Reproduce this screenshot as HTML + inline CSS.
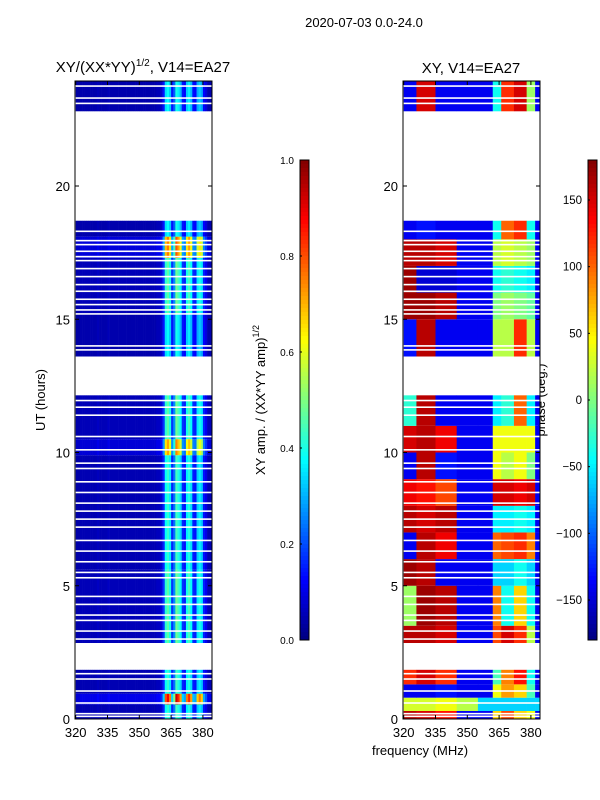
<!DOCTYPE html>
<html><head><meta charset="utf-8"><style>
body{margin:0;background:#fff;}
svg{display:block;font-family:"Liberation Sans",sans-serif;}
</style></head><body>
<svg id="chart" width="600" height="800" xmlns="http://www.w3.org/2000/svg">
<text x="364" y="27" font-size="13" text-anchor="middle">2020-07-03 0.0-24.0</text>
<text x="143" y="72" font-size="15" text-anchor="middle">XY/(XX*YY)<tspan dy="-6" font-size="10">1/2</tspan><tspan dy="6">, V14=EA27</tspan></text>
<text x="471" y="73" font-size="15" text-anchor="middle">XY, V14=EA27</text>
<text transform="translate(45,400) rotate(-90)" font-size="13" text-anchor="middle">UT (hours)</text>
<text x="420" y="755" font-size="13" text-anchor="middle">frequency (MHz)</text>
<text transform="translate(265,400) rotate(-90)" font-size="13" text-anchor="middle">XY amp. / (XX*YY amp)<tspan dy="-6" font-size="9">1/2</tspan></text>
<text transform="translate(545,400) rotate(-90)" font-size="13" text-anchor="middle">phase (deg.)</text>
<g id="left"></g>
<g id="right"></g>
<g id="axes"></g>
</svg>
<script>
const freqStart = 320, freqEnd = 384;
const gapRanges = [[1.85,2.85],[12.15,13.6],[18.7,22.8],[23.93,24]];
const thinGaps = [23.75,23.3,23.1,18.3,17.95,17.8,17.55,17.35,17.2,16.9,16.6,16.3,16.05,15.75,15.55,15.35,15.2,14.0,13.85,11.95,11.7,11.4,10.6,10.1,9.6,9.4,8.9,8.5,8.1,7.8,7.5,7.2,6.7,6.3,5.9,5.5,5.3,4.6,4.3,3.9,3.7,3.3,3.0,1.7,1.5,1.05,0.6,0.2,0.1];
const ampProfile = [0.04,0.04,0.05,0.05,0.05,0.05,0.05,0.05,0.05,0.05,0.06,0.05,0.05,0.05,0.05,0.06,0.05,0.05,0.05,0.05,0.05,0.05,0.05,0.05,0.05,0.05,0.05,0.05,0.05,0.05,0.05,0.05,0.05,0.05,0.05,0.05,0.05,0.05,0.06,0.06,0.08,0.16,0.38,0.42,0.36,0.16,0.24,0.44,0.4,0.34,0.16,0.14,0.36,0.4,0.34,0.15,0.14,0.32,0.36,0.32,0.14,0.1,0.05,0.05];
const ampBlocks = [[0,0.55,1.0],[0.55,0.95,2.1],[0.95,1.85,1.0],[2.85,5.6,1.1],[5.6,9.9,1.0],[9.9,10.5,1.7],[10.5,12.15,1.1],[13.6,15.2,0.9],[15.2,17.3,1.1],[17.3,18.1,1.8],[18.1,18.7,0.9],[22.8,23.95,0.9]];
const phaseEdges = [320,326,335,345,355,362,366,372,378,382,384];
const phaseBlocks = [
[0,0.3,[160,150,130,-140,-140,60,110,60,40,-140]],
[0.3,0.8,[30,30,40,20,-60,-60,-60,-60,-60,-60]],
[0.8,1.3,[-140,-140,-130,-140,-140,40,80,60,-20,-140]],
[1.3,1.85,[120,150,120,-140,-140,-20,90,130,-40,-140]],
[2.85,3.5,[160,160,150,-140,-140,110,150,120,20,-140]],
[3.5,5.0,[10,170,160,-140,-140,90,-40,60,-40,-140]],
[5.0,6.0,[170,160,-140,-140,-140,-60,-60,-40,-60,-140]],
[6.0,7.0,[-140,160,140,-140,-140,100,110,120,90,-140]],
[7.0,8.0,[160,150,160,-140,-140,-50,-50,-40,-50,-140]],
[8.0,9.0,[140,130,110,-140,-140,150,150,140,150,-140]],
[9.0,10.0,[-140,160,-130,-140,-140,40,20,40,0,-140]],
[10.0,11.0,[150,160,140,-140,-140,40,40,40,40,-140]],
[11.0,12.15,[-30,160,-140,-140,-140,-50,-30,100,-50,-140]],
[13.6,15.0,[-130,160,-140,-140,-140,20,20,120,20,-140]],
[15.0,16.0,[170,170,160,-140,-140,0,10,0,-10,-140]],
[16.0,17.0,[170,-150,-150,-140,-140,-40,-30,-40,-50,-140]],
[17.0,18.0,[160,160,150,-140,-140,20,30,20,10,-140]],
[18.0,18.7,[-140,-130,-140,-140,-140,-40,100,120,-40,-140]],
[22.8,23.95,[-140,150,-140,-140,-140,-40,120,150,10,-140]]];
const ampTicks = [0,0.2,0.4,0.6,0.8,1.0];
const phaseTicks = [-150,-100,-50,0,50,100,150];
const xTicks = [320,335,350,365,380];
const yTicks = [0,5,10,15,20];

const NS="http://www.w3.org/2000/svg";
const pxPerMHz = 2.12;
const yOf = h => 719 - h*26.65;
const xOfL = f => 75.7 + (f-320)*pxPerMHz;
const xOfR = f => 403.7 + (f-320)*pxPerMHz;
function jet(v){v=Math.max(0,Math.min(1,v));
 const r=Math.max(0,Math.min(1,1.5-Math.abs(4*v-3)));
 const g=Math.max(0,Math.min(1,1.5-Math.abs(4*v-2)));
 const b=Math.max(0,Math.min(1,1.5-Math.abs(4*v-1)));
 return `rgb(${Math.round(r*255)},${Math.round(g*255)},${Math.round(b*255)})`;}
function mk(tag,attrs,parent){const e=document.createElementNS(NS,tag);for(const k in attrs)e.setAttribute(k,attrs[k]);parent.appendChild(e);return e;}
const L=document.getElementById('left'), R=document.getElementById('right'), A=document.getElementById('axes');
ampBlocks.forEach(b=>{for(let c=0;c<ampProfile.length;c++){
  const f=freqStart+c;
  const r=mk('rect',{x:xOfL(f),y:yOf(b[1]),width:pxPerMHz+0.3,height:yOf(b[0])-yOf(b[1]),fill:jet(ampProfile[c]*b[2])},L);
  
  
}});
phaseBlocks.forEach(b=>{for(let i=0;i<phaseEdges.length-1;i++){
  const r=mk('rect',{x:xOfR(phaseEdges[i]),y:yOf(b[1]),width:(phaseEdges[i+1]-phaseEdges[i])*pxPerMHz+0.3,height:yOf(b[0])-yOf(b[1]),fill:jet((b[2][i]+180)/360)},R);
  
  
}});
[[75,137],[403,137]].forEach(p=>{
 gapRanges.forEach(g=>{mk('rect',{x:p[0],y:yOf(g[1]),width:p[1],height:yOf(g[0])-yOf(g[1]),fill:'#fff'},A);});
 thinGaps.forEach(t=>{mk('rect',{x:p[0],y:yOf(t)-0.8,width:p[1],height:1.6,fill:'#fff'},A);});
});
[[75,xOfL],[403,xOfR]].forEach((p,pi)=>{
 const fr=mk('rect',{x:p[0],y:81,width:137,height:638,fill:'none',stroke:'#000','stroke-width':1},A);
 
 
 xTicks.forEach(t=>{const x=p[1](t);
  mk('line',{x1:x,x2:x,y1:719,y2:715,stroke:'#000'},A);mk('line',{x1:x,x2:x,y1:81,y2:85,stroke:'#000'},A);
  const tx=mk('text',{x:x,y:737,'font-size':13,'text-anchor':'middle'},A);tx.textContent=t;
  
  });
 yTicks.forEach(t=>{const y=yOf(t);
  mk('line',{x1:p[0],x2:p[0]+4,y1:y,y2:y,stroke:'#000'},A);mk('line',{x1:p[0]+137,x2:p[0]+133,y1:y,y2:y,stroke:'#000'},A);
  const tx=mk('text',{x:p[0]-5,y:y+5,'font-size':13,'text-anchor':'end'},A);tx.textContent=t;
  
  });
});
function cbar(x,lo,hi,ticks,id){
 const g=mk('g',{},A);
 
 
 for(let i=0;i<120;i++){mk('rect',{x:x,y:160+i*4,width:9,height:4.3,fill:jet(1-(i+0.5)/120)},g);}
 mk('rect',{x:x,y:160,width:9,height:480,fill:'none',stroke:'#000'},g);
 ticks.forEach(t=>{const y=640-(t-lo)/(hi-lo)*480;
  mk('line',{x1:x,x2:x+2,y1:y,y2:y,stroke:'#000'},g);
  const tx=mk('text',{x:x-6,y:y+4,'font-size':id==='amp-colorbar'?10:11.5,'text-anchor':'end'},g);
  tx.textContent=(id==='amp-colorbar')?t.toFixed(1):(t<0?'\u2212'+(-t):t);
  
  });
}
cbar(300,0,1,ampTicks,'amp-colorbar');
cbar(588,-180,180,phaseTicks,'phase-colorbar');
</script>
</body></html>
